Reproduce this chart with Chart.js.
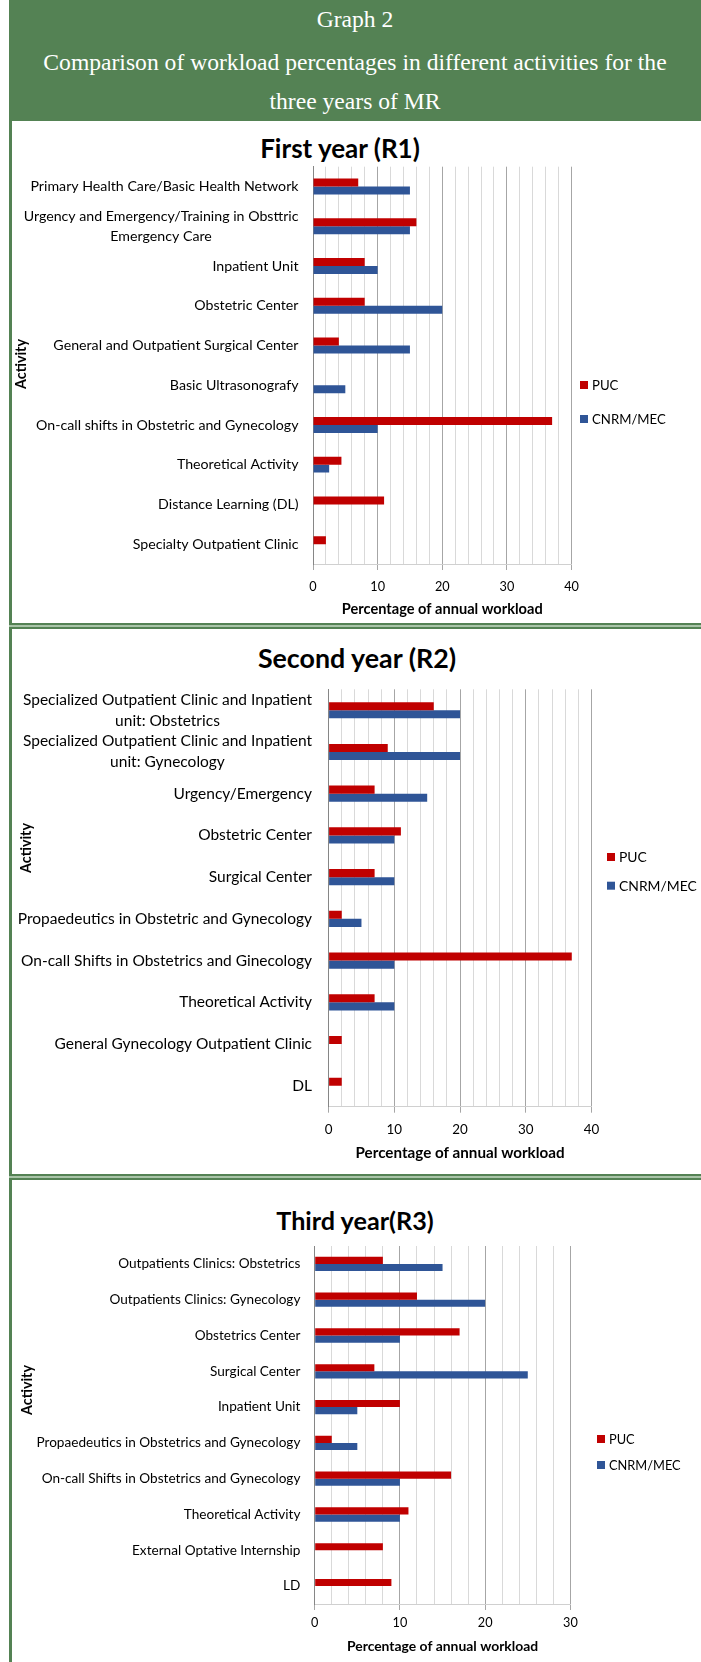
<!DOCTYPE html>
<html>
<head>
<meta charset="utf-8">
<title>Graph 2</title>
<script src="https://cdn.jsdelivr.net/npm/chart.js@4.4.1/dist/chart.umd.min.js"></script>
<style>
  body { margin: 0; width: 701px; height: 1662px; position: relative; overflow: hidden; background: #fff; font-family: Lato, sans-serif; }
  #header { position: absolute; left: 9px; top: 0; width: 692px; height: 121px; background: #548254; color: #fff;
            font-family: "Liberation Serif", serif; font-size: 23.6px; text-align: center; }
  #header div { position: absolute; left: 0; right: 0; line-height: 26px; }
  .vline { position: absolute; left: 9px; top: 121px; width: 3px; height: 1541px; background: #548254; }
  .hline { position: absolute; left: 9px; width: 692px; height: 2px; background: #a9c4a8; border-top: 2px solid #548254; border-bottom: 2px solid #548254; }
  .ptitle { position: absolute; transform: translate(-50%, -50%); font-weight: bold; white-space: nowrap; color: #000; }
  canvas { position: absolute; left: 12px; }
</style>
</head>
<body>
<div id="header">
  <div style="top:6px">Graph 2</div>
  <div style="top:48.5px">Comparison of workload percentages in different activities for the</div>
  <div style="top:87.5px">three years of MR</div>
</div>
<div class="vline"></div>
<div class="hline" style="top:623px"></div>
<div class="hline" style="top:1174px"></div>

<div class="ptitle" style="left:340px; top:148px; font-size:26px">First year (R1)</div>
<div class="ptitle" style="left:357px; top:658px; font-size:26.8px">Second year (R2)</div>
<div class="ptitle" style="left:355px; top:1220px; font-size:25.2px">Third year(R3)</div>

<canvas id="r1" width="689" height="502" style="top:121px"></canvas>
<canvas id="r2" width="689" height="545" style="top:629px"></canvas>
<canvas id="r3" width="689" height="482" style="top:1180px"></canvas>

<script>
// ---- data ----
const seriesNames = ['PUC', 'CNRM/MEC'];
const seriesColors = ['#C00000', '#2F5597'];

const r1Labels = ['Primary Health Care/Basic Health Network',
  ['Urgency and Emergency/Training in Obsttric', 'Emergency Care'],
  'Inpatient Unit', 'Obstetric Center', 'General and Outpatient Surgical Center',
  'Basic Ultrasonografy', 'On-call shifts in Obstetric and Gynecology',
  'Theoretical Activity', 'Distance Learning (DL)', 'Specialty Outpatient Clinic'];
const r1Puc  = [7, 16, 8, 8, 4, null, 37, 4.4, 11, 2];
const r1Cnrm = [15, 15, 10, 20, 15, 5, 10, 2.5, null, null];

const r2Labels = [['Specialized Outpatient Clinic and Inpatient', 'unit: Obstetrics'],
  ['Specialized Outpatient Clinic and Inpatient', 'unit: Gynecology'],
  'Urgency/Emergency', 'Obstetric Center', 'Surgical Center',
  'Propaedeutics in Obstetric and Gynecology', 'On-call Shifts in Obstetrics and Ginecology',
  'Theoretical Activity', 'General Gynecology Outpatient Clinic', 'DL'];
const r2Puc  = [16, 9, 7, 11, 7, 2, 37, 7, 2, 2];
const r2Cnrm = [20, 20, 15, 10, 10, 5, 10, 10, null, null];

const r3Labels = ['Outpatients Clinics: Obstetrics', 'Outpatients Clinics: Gynecology',
  'Obstetrics Center', 'Surgical Center', 'Inpatient Unit',
  'Propaedeutics in Obstetrics and Gynecology', 'On-call Shifts in Obstetrics and Gynecology',
  'Theoretical Activity', 'External Optative Internship', 'LD'];
const r3Puc  = [8, 12, 17, 7, 10, 2, 16, 11, 8, 9];
const r3Cnrm = [15, 20, 10, 25, 5, 5, 10, 10, null, null];

const axisTitleX = 'Percentage of annual workload';
const axisTitleY = 'Activity';

Chart.defaults.font.family = 'Lato';

// draws the category labels (multi-line ones centred like Excel does), the rotated
// axis title and the legend on the right
const excelLook = {
  id: 'excelLook',
  afterDraw(chart, args, o) {
    const ctx = chart.ctx;
    const yScale = chart.scales.y;
    ctx.save();
    ctx.fillStyle = '#000';
    ctx.textBaseline = 'middle';
    ctx.textAlign = 'center';
    ctx.font = o.labelSize + 'px Lato';
    chart.data.labels.forEach((lab, i) => {
      const lines = Array.isArray(lab) ? lab : [lab];
      const w = Math.max(...lines.map(t => ctx.measureText(t).width));
      const cx = chart.chartArea.left - o.labelGap - w / 2;
      const cy = yScale.getPixelForTick(i);
      lines.forEach((t, k) => ctx.fillText(t, cx, cy + (k - (lines.length - 1) / 2) * o.lineGap));
    });

    ctx.save();
    ctx.font = 'bold ' + o.yTitleSize + 'px Lato';
    ctx.translate(o.yTitleX, o.yTitleY);
    ctx.rotate(-Math.PI / 2);
    ctx.fillText(axisTitleY, 0, 0);
    ctx.restore();

    ctx.font = o.legendSize + 'px Lato';
    ctx.textAlign = 'left';
    chart.data.datasets.forEach((ds, i) => {
      const ly = o.legendY + i * o.legendStep;
      ctx.fillStyle = ds.backgroundColor;
      ctx.fillRect(o.legendX, ly - 4, 8, 8);
      ctx.fillStyle = '#000';
      ctx.fillText(ds.label, o.legendX + 12, ly + 1);
    });
    ctx.restore();
  }
};

function makeChart(id, labels, puc, cnrm, max, look) {
  return new Chart(document.getElementById(id), {
    type: 'bar',
    data: {
      labels: labels,
      datasets: [
        { label: seriesNames[0], data: puc, backgroundColor: seriesColors[0] },
        { label: seriesNames[1], data: cnrm, backgroundColor: seriesColors[1] }
      ]
    },
    options: {
      indexAxis: 'y',
      responsive: false,
      animation: false,
      layout: { padding: { left: 0, right: look.padRight, top: look.padTop, bottom: 0 } },
      datasets: { bar: { categoryPercentage: look.catPct, barPercentage: 1 } },
      plugins: { legend: { display: false }, tooltip: { enabled: false }, excelLook: look },
      scales: {
        x: {
          min: 0, max: max,
          afterFit: s => { s.height = look.xHeight; },
          ticks: {
            stepSize: 2, autoSkip: false, maxRotation: 0, padding: look.tickPad, color: '#000',
            font: { size: look.tickSize },
            callback: v => (v % 10 === 0 ? v : '')
          },
          grid: {
            color: c => (c.tick && c.tick.value % 10 === 0 ? '#A6A6A6' : '#D9D9D9'),
            tickLength: 6,
            tickColor: c => (c.tick && c.tick.value % 10 === 0 ? '#A6A6A6' : 'rgba(0,0,0,0)')
          },
          border: { color: '#D0D0D0' },
          title: {
            display: true, text: axisTitleX, color: '#000',
            font: { size: look.xTitleSize, weight: 'bold' },
            padding: { top: 0, bottom: look.xTitlePad }
          }
        },
        y: {
          afterFit: s => { s.width = look.yWidth; },
          ticks: { display: false },
          grid: { display: false },
          border: { color: '#868686' }
        }
      }
    },
    plugins: [excelLook]
  });
}

makeChart('r1', r1Labels, r1Puc, r1Cnrm, 40, {
  padTop: 45.7, padRight: 129.5, yWidth: 301, xHeight: 59, catPct: 0.4,
  tickPad: 9.1, tickSize: 12.7, xTitleSize: 14.6, xTitlePad: 4.9,
  labelSize: 14.2, labelGap: 14.5, lineGap: 19.4,
  yTitleX: 9, yTitleY: 243, yTitleSize: 14.3,
  legendX: 568, legendY: 264, legendStep: 34, legendSize: 13.2
});
makeChart('r2', r2Labels, r2Puc, r2Cnrm, 40, {
  padTop: 60.3, padRight: 109.5, yWidth: 316.6, xHeight: 67.3, catPct: 0.385,
  tickPad: 8.6, tickSize: 13.4, xTitleSize: 15.2, xTitlePad: 11.9,
  labelSize: 15.5, labelGap: 16.6, lineGap: 21,
  yTitleX: 14, yTitleY: 219, yTitleSize: 14.3,
  legendX: 595, legendY: 228, legendStep: 28.7, legendSize: 13.9
});
makeChart('r3', r3Labels, r3Puc, r3Cnrm, 30, {
  padTop: 66, padRight: 130.6, yWidth: 302.7, xHeight: 58, catPct: 0.4,
  tickPad: 5.7, tickSize: 12.7, xTitleSize: 13.9, xTitlePad: 6.7,
  labelSize: 13.6, labelGap: 14.3, lineGap: 18,
  yTitleX: 15, yTitleY: 210, yTitleSize: 14.3,
  legendX: 585, legendY: 259, legendStep: 26, legendSize: 12.8
});
</script>
</body>
</html>
